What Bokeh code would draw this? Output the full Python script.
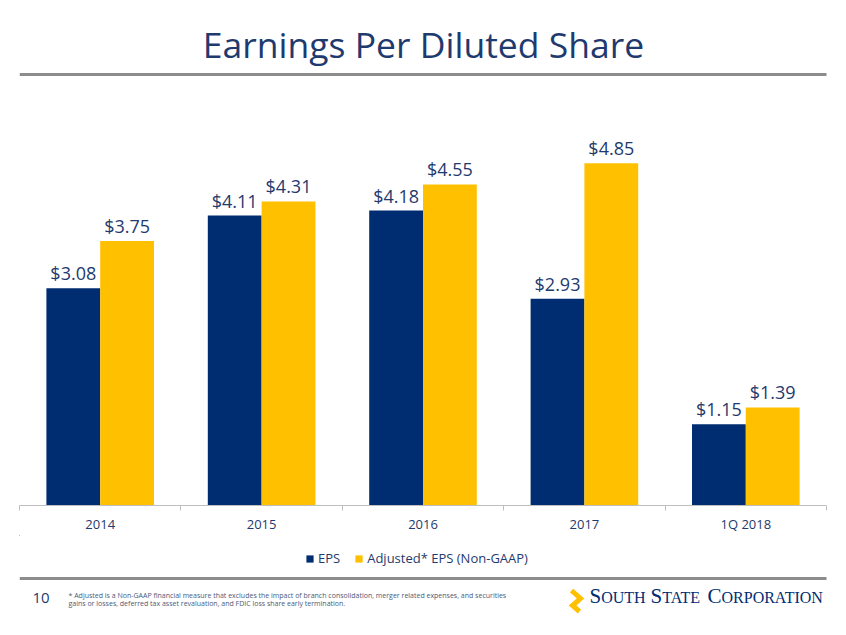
from bokeh.plotting import figure
from bokeh.models import (Range1d, FixedTicker, Legend, LegendItem, ColumnDataSource)
from bokeh.layouts import column
from bokeh.transform import dodge
from bokeh.core.properties import value
from bokeh.embed import file_html
from bokeh.resources import INLINE

# ---- data ----
categories = ["2014", "2015", "2016", "2017", "1Q 2018"]
eps = [3.08, 4.11, 4.18, 2.93, 1.15]
adjusted_eps = [3.75, 4.31, 4.55, 4.85, 1.39]
series_names = ["EPS", "Adjusted* EPS (Non-GAAP)"]
title_text = "Earnings Per Diluted Share"
page_number = "10"
footnote_lines = [
    "* Adjusted is a Non-GAAP financial measure that excludes the impact of branch consolidation, merger related expenses, and securities",
    "gains or losses, deferred tax asset revaluation, and FDIC loss share early termination.",
]

NAVY = "#002D72"
GOLD = "#FFC000"
TEXT_NAVY = "#1F3A6E"
GRAY = "#8C8C8C"
FONT = "Open Sans"
W = 846
# frames of all stacked figures are aligned to the chart frame: page x 19..826
FX0, FX1 = 19, 826

# ---- header (page coordinates) ----
header = figure(width=W, height=90, x_range=Range1d(FX0, FX1), y_range=Range1d(90, 0),
                output_backend="svg", toolbar_location=None,
                x_axis_location=None, y_axis_location=None,
                min_border=0, outline_line_color=None)
header.grid.visible = False
header.text(x=[423], y=[43], text=[title_text], text_align="center",
            text_baseline="alphabetic", text_font=value(FONT),
            text_font_size="35.5px", text_color=TEXT_NAVY)
header.segment(x0=[FX0], y0=[74], x1=[FX1 + 3], y1=[74], line_color=GRAY, line_width=3)

# ---- main chart ----
idx = list(range(len(categories)))
src = ColumnDataSource(dict(x=idx, eps=eps, adj=adjusted_eps,
                            eps_lbl=["$%.2f" % v for v in eps],
                            adj_lbl=["$%.2f" % v for v in adjusted_eps]))

p = figure(width=W, height=445, x_range=Range1d(-0.5, len(categories) - 0.5),
           y_range=Range1d(0, 5.74), output_backend="svg", toolbar_location=None,
           y_axis_location=None,
           min_border_left=FX0, min_border_right=W - FX1, min_border_top=10,
           min_border_bottom=28, outline_line_color=None)
p.grid.visible = False

r1 = p.vbar(x=dodge("x", -1/6, range=p.x_range), top="eps", width=1/3, bottom=0,
            source=src, fill_color=NAVY, line_color=None)
r2 = p.vbar(x=dodge("x", 1/6, range=p.x_range), top="adj", width=1/3, bottom=0,
            source=src, fill_color=GOLD, line_color=None)

p.text(x=dodge("x", -1/6, range=p.x_range), y="eps", text="eps_lbl", source=src,
       text_align="center", text_baseline="alphabetic", y_offset=-15,
       text_font=value(FONT), text_font_size="18px", text_color=TEXT_NAVY)
p.text(x=dodge("x", 1/6, range=p.x_range), y="adj", text="adj_lbl", source=src,
       text_align="center", text_baseline="alphabetic", y_offset=-15,
       text_font=value(FONT), text_font_size="18px", text_color=TEXT_NAVY)

ax = p.xaxis[0]
ax.ticker = FixedTicker(ticks=idx, minor_ticks=[i - 0.5 for i in range(len(categories) + 1)])
ax.major_label_overrides = {i: c for i, c in enumerate(categories)}
ax.major_tick_line_color = None
ax.major_tick_out = 0
ax.major_tick_in = 0
ax.minor_tick_line_color = "#BFBFBF"
ax.minor_tick_out = 5
ax.minor_tick_in = 0
ax.axis_line_color = "#BFBFBF"
ax.axis_line_width = 1
ax.major_label_standoff = 4
ax.major_label_text_font = FONT
ax.major_label_text_font_size = "13px"
ax.major_label_text_color = TEXT_NAVY

# ---- footer with legend (page coordinates) ----
footer = figure(width=W, height=100, x_range=Range1d(FX0, FX1), y_range=Range1d(635, 535),
                output_backend="svg", toolbar_location=None,
                x_axis_location=None, y_axis_location=None,
                min_border=0, outline_line_color=None)
footer.grid.visible = False

# legend swatches: same series data, outside this panel's visible range
l1 = footer.vbar(x="x", top="eps", width=0.5, bottom=0, source=src,
                 fill_color=NAVY, line_color=None)
l2 = footer.vbar(x="x", top="adj", width=0.5, bottom=0, source=src,
                 fill_color=GOLD, line_color=None)
legend = Legend(items=[LegendItem(label=series_names[0], renderers=[l1]),
                       LegendItem(label=series_names[1], renderers=[l2])],
                orientation="horizontal", location=(286, 68),
                glyph_width=9, glyph_height=9, label_height=9,
                label_standoff=4, spacing=14, padding=0, margin=0,
                border_line_color=None, background_fill_alpha=0,
                label_text_font=FONT, label_text_font_size="13px",
                label_text_color=TEXT_NAVY)
footer.add_layout(legend, "center")

footer.segment(x0=[FX0], y0=[578], x1=[FX1 + 3], y1=[578], line_color=GRAY, line_width=3)
footer.text(x=[32], y=[597], text=[page_number], text_baseline="alphabetic",
            text_font=value(FONT), text_font_size="15px", text_color=TEXT_NAVY)
footer.text(x=[68, 68], y=[595, 603], text=footnote_lines, text_baseline="alphabetic",
            text_font=value(FONT), text_font_size="7px", text_color="#4A5A78")
# logo mark
footer.line(x=[571, 580, 572, 579], y=[590, 598, 605, 611], line_color=GOLD,
            line_width=5, line_join="miter")
# logo wordmark in small caps
SERIF = "Liberation Serif"
big = ["S", "S", "C"]
small = ["OUTH", "TATE", "ORPORATION"]
big_x = [589, 650, 707]
small_x = [600.7, 661.7, 721]
footer.text(x=big_x, y=[595] * 3, text=big, text_baseline="alphabetic",
            text_font=value(SERIF), text_font_size="21px", text_color=NAVY)
footer.text(x=small_x, y=[597] * 3, text=small, text_baseline="alphabetic",
            text_font=value(SERIF), text_font_size="16px", text_color=NAVY)

layout = column(header, p, footer, spacing=0)
open("out.html", "w").write(file_html(layout, INLINE))
